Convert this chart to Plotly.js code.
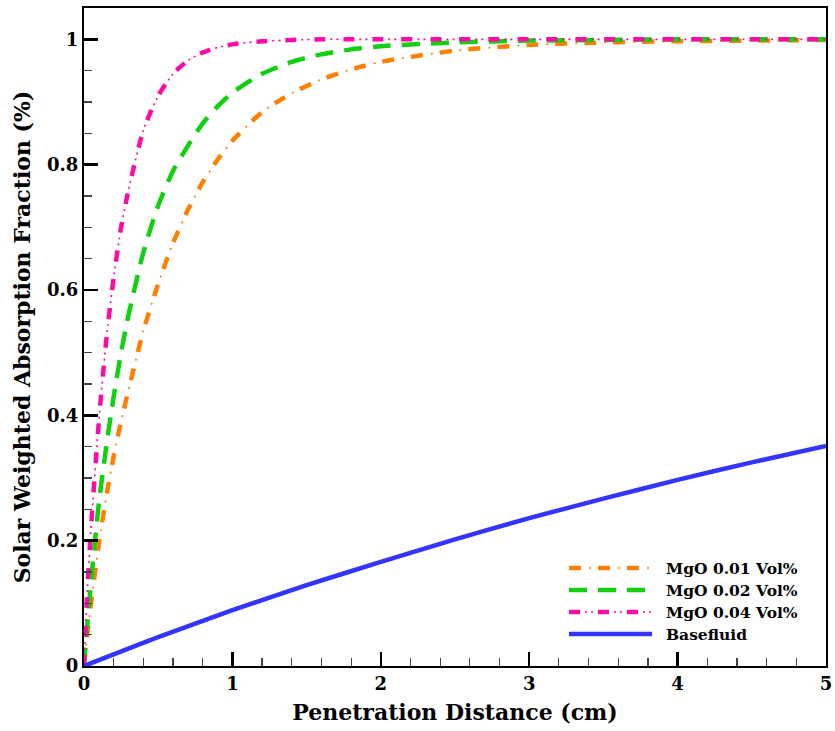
<!DOCTYPE html>
<html>
<head>
<meta charset="utf-8">
<script src="https://cdn.plot.ly/plotly-3.0.1.min.js"></script>
<style>
  html, body { margin: 0; padding: 0; background: #fff; }
  #chart { width: 835px; height: 731px; }
</style>
</head>
<body>
<div id="chart"></div>
<script>
// Penetration distance (cm) for the nanofluid curves
const distMgO = [0, 0.02, 0.05, 0.1, 0.15, 0.2, 0.25, 0.3, 0.4, 0.5, 0.6, 0.7, 0.8, 0.9,
                 1.0, 1.2, 1.4, 1.6, 1.8, 2.0, 2.5, 3.0, 3.5, 4.0, 4.5, 5.0];

// Solar weighted absorption fraction for each MgO concentration
const mgo001 = [0, 0.045, 0.105, 0.195, 0.27, 0.335, 0.39, 0.44, 0.535, 0.61, 0.675, 0.728, 0.772, 0.808,
                0.838, 0.884, 0.914, 0.936, 0.952, 0.964, 0.982, 0.991, 0.995, 0.997, 0.998, 0.999];
const mgo002 = [0, 0.06, 0.14, 0.26, 0.35, 0.43, 0.50, 0.56, 0.66, 0.735, 0.79, 0.83, 0.866, 0.893,
                0.915, 0.945, 0.964, 0.976, 0.984, 0.989, 0.995, 0.998, 0.999, 1.0, 1.0, 1.0];
const mgo004 = [0, 0.11, 0.23, 0.39, 0.52, 0.62, 0.70, 0.76, 0.855, 0.91, 0.945, 0.966, 0.979, 0.987,
                0.992, 0.997, 0.999, 1.0, 1.0, 1.0, 1.0, 1.0, 1.0, 1.0, 1.0, 1.0];

// Base fluid (no particles)
const distBase = [0, 0.5, 1.0, 1.5, 2.0, 2.5, 3.0, 3.5, 4.0, 4.5, 5.0];
const baseFluid = [0, 0.046, 0.089, 0.129, 0.166, 0.202, 0.236, 0.267, 0.297, 0.325, 0.351];

const seriesNames = ['MgO 0.01 Vol%', 'MgO 0.02 Vol%', 'MgO 0.04 Vol%', 'Basefluid'];
const xTicks = [0, 1, 2, 3, 4, 5];
const yTicks = [0, 0.2, 0.4, 0.6, 0.8, 1];

const FONT = '"DejaVu Serif", "Liberation Serif", serif';
const C_ORANGE = '#ff8000';
const C_GREEN = '#10d010';
const C_PINK = '#ff0aa5';
const C_BLUE = '#3434ff';

// Each dash-dot style is a thick dash stroke plus a thin stroke for the dots,
// both following the same path so the patterns stay in phase.
const styles = [
  { color: C_ORANGE, parts: [{ w: 4.5, dash: '12px,17px' }, { w: 1.6, dash: '0px,20px,2px,7px' }] },
  { color: C_GREEN,  parts: [{ w: 4.5, dash: '18px,11px' }] },
  { color: C_PINK,   parts: [{ w: 4.5, dash: '11px,18px' }, { w: 1.6, dash: '0px,16px,2px,4px,2px,5px' }] },
  { color: C_BLUE,   parts: [{ w: 4.5, dash: 'solid' }] }
];
const ys = [mgo001, mgo002, mgo004, baseFluid];
const xs = [distMgO, distMgO, distMgO, distBase];

const traces = [];
styles.forEach((s, i) => {
  s.parts.forEach(p => {
    traces.push({
      x: xs[i], y: ys[i], type: 'scatter', mode: 'lines',
      name: seriesNames[i], showlegend: false, hoverinfo: 'skip',
      line: { color: s.color, width: p.w, dash: p.dash, shape: 'spline', smoothing: 0.6 }
    });
  });
});

// Plot area in pixels
const L = 84, R = 9, T = 8, B = 65, W = 835, H = 731;
const pw = W - L - R, ph = H - T - B;
const px = v => (v - L) / pw;
const py = v => (H - B - v) / ph;

// Legend drawn as key lines + labels in the lower right
const legendRows = [568, 590, 612, 634];
const keyX0 = 569, keyX1 = 652, textX = 664;
const shapes = [];
const annotations = [];
styles.forEach((s, i) => {
  s.parts.forEach(p => {
    shapes.push({
      type: 'line', xref: 'paper', yref: 'paper',
      x0: px(keyX0), x1: px(keyX1), y0: py(legendRows[i]), y1: py(legendRows[i]),
      line: { color: s.color, width: p.w, dash: p.dash }
    });
  });
  annotations.push({
    xref: 'paper', yref: 'paper', x: px(textX), y: py(legendRows[i]),
    xanchor: 'left', yanchor: 'middle', showarrow: false,
    text: '<b>' + seriesNames[i] + '</b>',
    font: { family: FONT, size: 15.5, color: '#000' }
  });
});

const axisCommon = {
  showline: true, linecolor: '#000', linewidth: 2, mirror: true,
  ticks: 'inside', ticklen: 14, tickwidth: 2.5, tickcolor: '#000',
  showgrid: false, zeroline: false,
  tickfont: { family: FONT, size: 18, color: '#000', weight: 'bold' }
};

const layout = {
  width: W, height: H,
  margin: { l: L, r: R, t: T, b: B },
  paper_bgcolor: '#fff', plot_bgcolor: '#fff',
  showlegend: false,
  xaxis: Object.assign({}, axisCommon, {
    range: [0, 5], tickvals: xTicks, ticktext: xTicks.map(String),
    minor: { dtick: 0.2, ticks: 'inside', ticklen: 8, tickwidth: 1.2, tickcolor: '#444' },
    title: { text: '<b>Penetration Distance (cm)</b>', standoff: 12,
             font: { family: FONT, size: 22, color: '#000' } }
  }),
  yaxis: Object.assign({}, axisCommon, {
    range: [0, 1.05], tickvals: yTicks, ticktext: yTicks.map(String),
    minor: { dtick: 0.05, ticks: 'inside', ticklen: 8, tickwidth: 1.2, tickcolor: '#444' },
    title: { text: '<b>Solar Weighted Absorption Fraction (%)</b>', standoff: 10,
             font: { family: FONT, size: 22, color: '#000' } }
  }),
  shapes: shapes,
  annotations: annotations
};

Plotly.newPlot('chart', traces, layout, { staticPlot: true, displayModeBar: false });
</script>
</body>
</html>
